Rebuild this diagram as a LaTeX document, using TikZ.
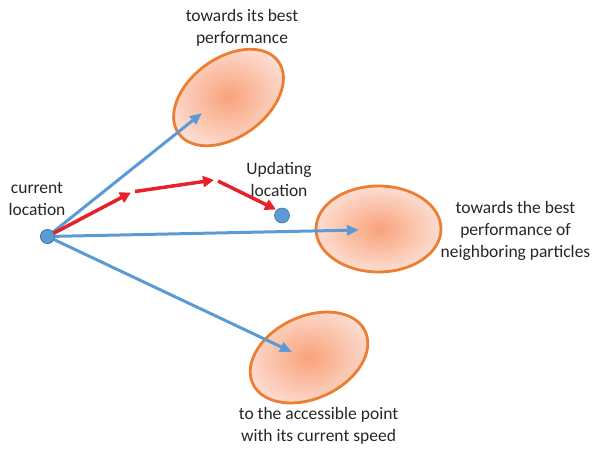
\documentclass[tikz,border=0pt]{standalone}
\usepackage{fontspec}
\setmainfont{Carlito}
\usetikzlibrary{shapes.geometric,arrows.meta}
\definecolor{blu}{HTML}{5B9BD5}
\definecolor{bludark}{HTML}{41719C}
\definecolor{org}{HTML}{ED7D31}
\definecolor{orgin}{HTML}{F9A27A}
\definecolor{orgout}{HTML}{FCDDD2}
\definecolor{rd}{HTML}{E8202A}
\definecolor{txt}{HTML}{262626}
\tikzset{
  blob/.style={ellipse, draw=org, line width=2.8pt, inner sep=0pt,
    inner color=orgin, outer color=orgout},
  dotnode/.style={circle, fill=blu, draw=bludark, line width=0.6pt, minimum size=14pt, inner sep=0pt},
  bluearrow/.style={draw=blu, line width=3pt, -{Triangle[length=12pt,width=10pt]}},
  redarrow/.style={draw=rd, line width=3.5pt, -{Triangle[length=11pt,width=11pt]}},
  lbl/.style={text=txt, font=\fontsize{17.5}{22}\selectfont, align=center, inner sep=0pt}
}
\begin{document}
\begin{tikzpicture}[x=1pt,y=-1pt]
\useasboundingbox (0,0) rectangle (595,448);
% ellipses
\node[blob, minimum width=123pt, minimum height=79pt, rotate=36] (e1) at (228.5,97.5) {};
\node[blob, minimum width=125pt, minimum height=86pt] (e2) at (378.5,229) {};
\node[blob, minimum width=124pt, minimum height=82pt, rotate=25] (e3) at (309,357.5) {};
% dots
\node[dotnode] (cur) at (47.5,236.5) {};
\node[dotnode, minimum size=15pt] (upd) at (282,215.5) {};
% arrow end coordinates
\coordinate (t1) at (202,113);
\coordinate (t2) at (359,230);
\coordinate (t3) at (292,352);
\coordinate (r1) at (131,192.5);
\coordinate (r2s) at (135,191.5);
\coordinate (r2) at (214,180);
\coordinate (r3s) at (218,181);
\coordinate (r3) at (276,209.5);
% blue arrows
\draw[bluearrow] (cur.center) -- (t1);
\draw[bluearrow] (cur.center) -- (t2);
\draw[bluearrow] (cur.center) -- (t3);
% red arrows
\draw[redarrow] (cur.center) -- (r1);
\draw[redarrow] (r2s) -- (r2);
\draw[redarrow] (r3s) -- (r3);
% dots on top
\node[dotnode] at (cur.center) {};
% labels
\node[lbl] (lcur) at (37,199) {current\\location};
\node[lbl] (lupd) at (279,179) {Updating\\location};
\node[lbl] (ltop) at (242,28) {towards its best\\performance};
\node[lbl] (lright) at (515.5,230.5) {towards the best\\performance of\\neighboring particles};
\node[lbl] (lbot) at (318.5,426) {to the accessible point\\with its current speed};
\end{tikzpicture}
\end{document}
